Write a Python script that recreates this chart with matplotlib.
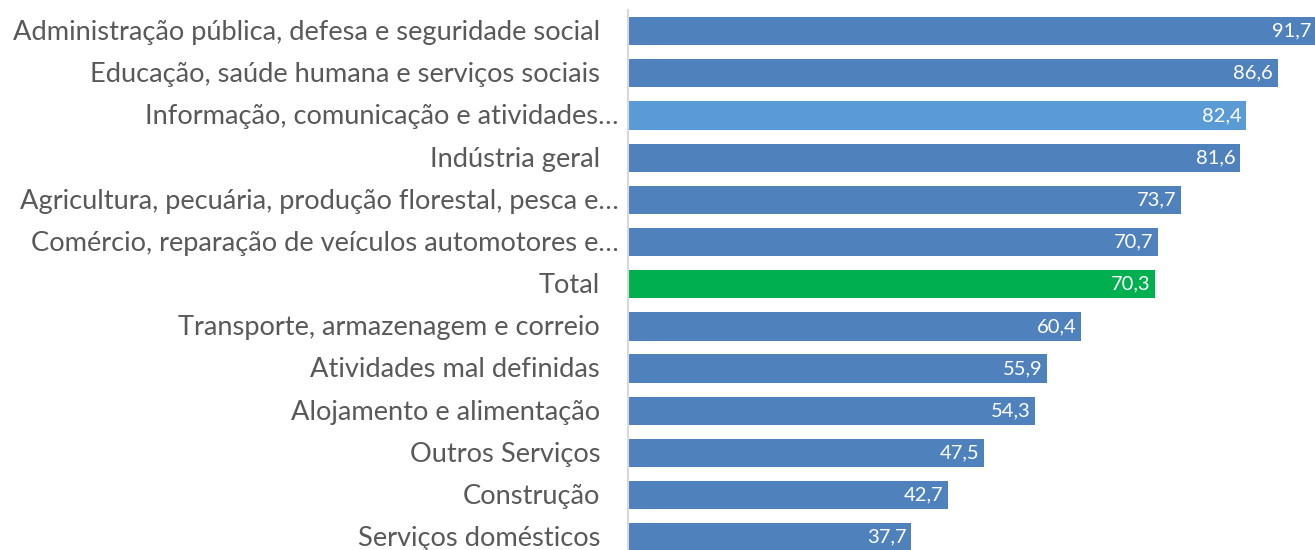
import matplotlib
matplotlib.use("Agg")
import matplotlib.pyplot as plt

categories = [
    "Administração pública, defesa e seguridade social",
    "Educação, saúde humana e serviços sociais",
    "Informação, comunicação e atividades…",
    "Indústria geral",
    "Agricultura, pecuária, produção florestal, pesca e…",
    "Comércio, reparação de veículos automotores e…",
    "Total",
    "Transporte, armazenagem e correio",
    "Atividades mal definidas",
    "Alojamento e alimentação",
    "Outros Serviços",
    "Construção",
    "Serviços domésticos",
]
values = [91.7, 86.6, 82.4, 81.6, 73.7, 70.7, 70.3, 60.4, 55.9, 54.3, 47.5, 42.7, 37.7]
value_labels = ["91,7", "86,6", "82,4", "81,6", "73,7", "70,7", "70,3", "60,4", "55,9", "54,3", "47,5", "42,7", "37,7"]

base_color = "#4F81BD"
special = {"Informação, comunicação e atividades…": "#5B9BD5", "Total": "#00B050"}
colors = [special.get(c, base_color) for c in categories]

plt.rcParams['font.family'] = ['Lato', 'DejaVu Sans']

W, H = 1315, 550
fig = plt.figure(figsize=(W / 100, H / 100), dpi=100)
ax_left = 628 / W
ax = fig.add_axes([ax_left, 0, 1 - ax_left, 1 - 10 / H])

y = list(range(len(categories)))
ax.barh(y, values, height=0.67, color=colors, edgecolor="none")
ax.set_ylim(12.30, -0.5)
ax.set_xlim(0, 91.6)

for yi, v, lab in zip(y, values, value_labels):
    ax.text(v - 0.6, yi, lab, ha="right", va="center", color="white", fontsize=14.5)

# category labels (truncated ones overhang toward the axis, as in the source)
for yi, cat in zip(y, categories):
    off = -7 if cat.endswith("…") else -20
    ax.annotate(cat, xy=(0, yi), xycoords=("axes fraction", "data"),
                xytext=(off, -1), textcoords="offset points",
                ha="right", va="center", fontsize=19.6, color="#595959",
                annotation_clip=False)

ax.set_yticks([])
ax.set_xticks([])
for s in ["top", "right", "bottom"]:
    ax.spines[s].set_visible(False)
ax.spines["left"].set_color("#D9D9D9")
ax.spines["left"].set_linewidth(1.5)

fig.savefig("out.png", dpi=100, facecolor="white")
